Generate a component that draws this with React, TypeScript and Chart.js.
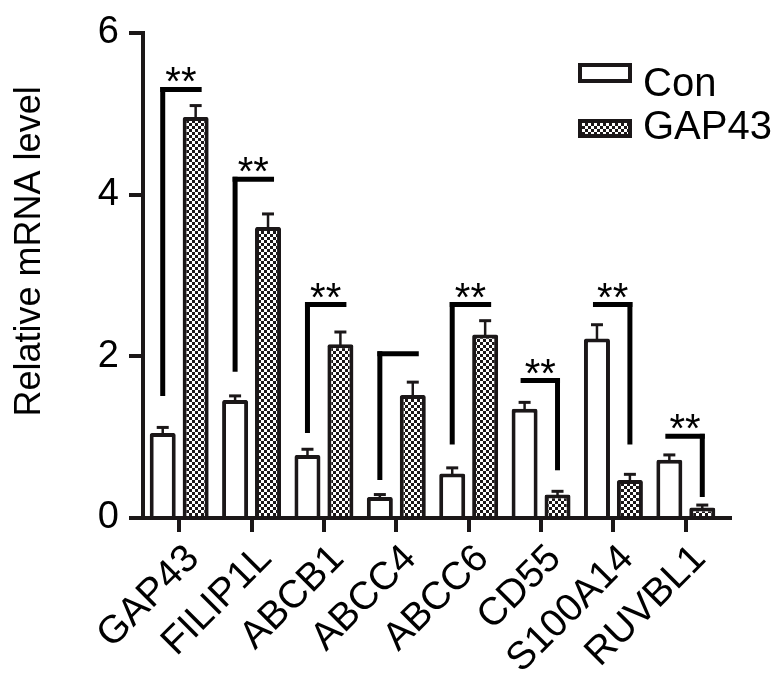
import React, { useEffect, useRef } from "react";
import { Chart, registerables } from "chart.js";

Chart.register(...registerables);

const genes = ["GAP43", "FILIP1L", "ABCB1", "ABCC4", "ABCC6", "CD55", "S100A14", "RUVBL1"];
const conValues = [1.05, 1.46, 0.78, 0.26, 0.55, 1.35, 2.22, 0.72];
const conErrors = [0.07, 0.05, 0.07, 0.03, 0.07, 0.08, 0.17, 0.06];
const gapValues = [4.96, 3.6, 2.15, 1.52, 2.27, 0.29, 0.47, 0.13];
const gapErrors = [0.14, 0.16, 0.15, 0.16, 0.17, 0.04, 0.07, 0.03];
const bracketTop = [5.3, 4.19, 2.64, 2.03, 2.64, 1.7, 2.64, 1.01];
const bracketBottom = [1.51, 1.81, 1.05, 0.47, 0.91, 0.59, 0.91, 0.26];
const sigLabels = ["**", "**", "**", "", "**", "**", "**", "**"];
const yTicks = [0, 2, 4, 6];
const seriesNames = ["Con", "GAP43"];

const FONT = "'Liberation Sans', Arial, Helvetica, sans-serif";
const DARK = "#1b1718";

function makePattern(ctx: CanvasRenderingContext2D) {
  const c = document.createElement("canvas");
  c.width = 6;
  c.height = 6;
  const g = c.getContext("2d")!;
  g.fillStyle = "#ffffff";
  g.fillRect(0, 0, 6, 6);
  g.fillStyle = DARK;
  g.fillRect(0, 0, 3, 3);
  g.fillRect(3, 3, 3, 3);
  return ctx.createPattern(c, "repeat")!;
}

export default function App() {
  const ref = useRef<HTMLCanvasElement | null>(null);

  useEffect(() => {
    const canvas = ref.current!;
    const ctx = canvas.getContext("2d")!;
    const pattern = makePattern(ctx);

    const errorBars = {
      id: "errorBars",
      afterDatasetsDraw(chart: any) {
        const c = chart.ctx;
        const y = chart.scales.y;
        const errs = [conErrors, gapErrors];
        const vals = [conValues, gapValues];
        c.save();
        c.strokeStyle = DARK;
        for (let d = 0; d < 2; d++) {
          const meta = chart.getDatasetMeta(d);
          meta.data.forEach((el: any, i: number) => {
            const top = y.getPixelForValue(vals[d][i] + errs[d][i]);
            c.lineWidth = 2.5;
            c.beginPath();
            c.moveTo(el.x, el.y + 1);
            c.lineTo(el.x, top);
            c.stroke();
            c.lineWidth = 3;
            c.beginPath();
            c.moveTo(el.x - 6, top);
            c.lineTo(el.x + 6, top);
            c.stroke();
          });
        }
        c.restore();
      },
    };

    const overlay = {
      id: "overlay",
      afterDraw(chart: any) {
        const c = chart.ctx;
        const y = chart.scales.y;
        const area = chart.chartArea;
        c.save();
        // x axis line
        c.strokeStyle = DARK;
        c.lineWidth = 4;
        c.beginPath();
        c.moveTo(area.left - 2, area.bottom);
        c.lineTo(area.right + 10, area.bottom);
        c.stroke();

        // brackets
        const m0 = chart.getDatasetMeta(0);
        const m1 = chart.getDatasetMeta(1);
        c.strokeStyle = "#000";
        c.fillStyle = "#000";
        c.lineWidth = 5;
        c.lineCap = "butt";
        for (let i = 0; i < genes.length; i++) {
          const x0 = m0.data[i].x;
          const x1 = m1.data[i].x;
          const yt = y.getPixelForValue(bracketTop[i]);
          const yb = y.getPixelForValue(bracketBottom[i]);
          const up = gapValues[i] > conValues[i];
          let hx0: number, hx1: number, vx: number;
          if (up) {
            vx = x0;
            hx0 = x0 - 2.5;
            hx1 = x1 + 6;
          } else {
            vx = x1;
            hx0 = x0 - 4;
            hx1 = x1 + 2.5;
          }
          c.beginPath();
          c.moveTo(hx0, yt);
          c.lineTo(hx1, yt);
          c.stroke();
          c.beginPath();
          c.moveTo(vx, yt - 2.5);
          c.lineTo(vx, yb);
          c.stroke();
          if (sigLabels[i]) {
            c.font = `40px ${FONT}`;
            c.textAlign = "center";
            c.textBaseline = "alphabetic";
            c.fillText(sigLabels[i], (hx0 + hx1) / 2, yt + 6);
          }
        }

        // y title
        c.save();
        c.translate(30, (area.top + area.bottom) / 2 - 24);
        c.rotate(-Math.PI / 2);
        c.font = `36px ${FONT}`;
        c.textAlign = "center";
        c.textBaseline = "middle";
        c.fillStyle = "#000";
        c.fillText("Relative mRNA level", 0, 0);
        c.restore();

        // legend
        const lx = 578;
        const boxes = [
          { y: 63, h: 20, fill: "#ffffff" as any, ty: 85 },
          { y: 119, h: 19, fill: pattern as any, ty: 128 },
        ];
        boxes.forEach((b, k) => {
          c.fillStyle = b.fill;
          c.fillRect(lx, b.y, 54, b.h);
          c.strokeStyle = DARK;
          c.lineWidth = 4;
          c.strokeRect(lx + 2, b.y + 2, 50, b.h - 4);
          c.fillStyle = "#000";
          c.font = `40px ${FONT}`;
          c.textAlign = "left";
          c.textBaseline = "middle";
          c.fillText(seriesNames[k], 643, b.ty);
        });
        c.restore();
      },
    };

    const chart = new Chart(canvas, {
      type: "bar",
      data: {
        labels: genes,
        datasets: [
          {
            label: seriesNames[0],
            data: conValues,
            backgroundColor: "#ffffff",
            borderColor: DARK,
            borderWidth: 4,
            borderRadius: 2,
            borderSkipped: "start",
          },
          {
            label: seriesNames[1],
            data: gapValues,
            backgroundColor: pattern as any,
            borderColor: DARK,
            borderWidth: 4,
            borderRadius: 2,
            borderSkipped: "start",
          },
        ],
      },
      options: {
        animation: false,
        responsive: true,
        maintainAspectRatio: false,
        layout: { padding: { top: 28, right: 55, left: 0, bottom: 0 } },
        datasets: { bar: { categoryPercentage: 0.91, barPercentage: 0.79 } },
        plugins: { legend: { display: false }, tooltip: { enabled: false } },
        scales: {
          x: {
            grid: {
              display: true,
              drawOnChartArea: false,
              drawTicks: true,
              tickLength: 14,
              lineWidth: 4,
              color: DARK,
              offset: false,
            },
            border: { display: false },
            ticks: {
              autoSkip: false,
              maxRotation: 45,
              minRotation: 45,
              padding: 4,
              labelOffset: 14,
              color: "#000",
              font: { family: FONT, size: 39 },
            },
            afterFit: (s: any) => {
              s.height = 159;
            },
          },
          y: {
            min: 0,
            max: 6,
            afterBuildTicks: (s: any) => {
              s.ticks = yTicks.map((v) => ({ value: v }));
            },
            ticks: {
              padding: 10,
              color: "#000",
              font: { family: FONT, size: 38 },
            },
            grid: {
              display: true,
              drawOnChartArea: false,
              drawTicks: true,
              tickLength: 14,
              lineWidth: 4,
              color: DARK,
            },
            border: { display: true, width: 4, color: DARK },
            afterFit: (s: any) => {
              s.width = 143;
            },
          },
        },
      },
      plugins: [errorBars, overlay],
    });

    return () => chart.destroy();
  }, []);

  return (
    <div style={{ position: "absolute", left: 0, top: 0, width: 777, height: 677, background: "#fff" }}>
      <canvas ref={ref} />
    </div>
  );
}
